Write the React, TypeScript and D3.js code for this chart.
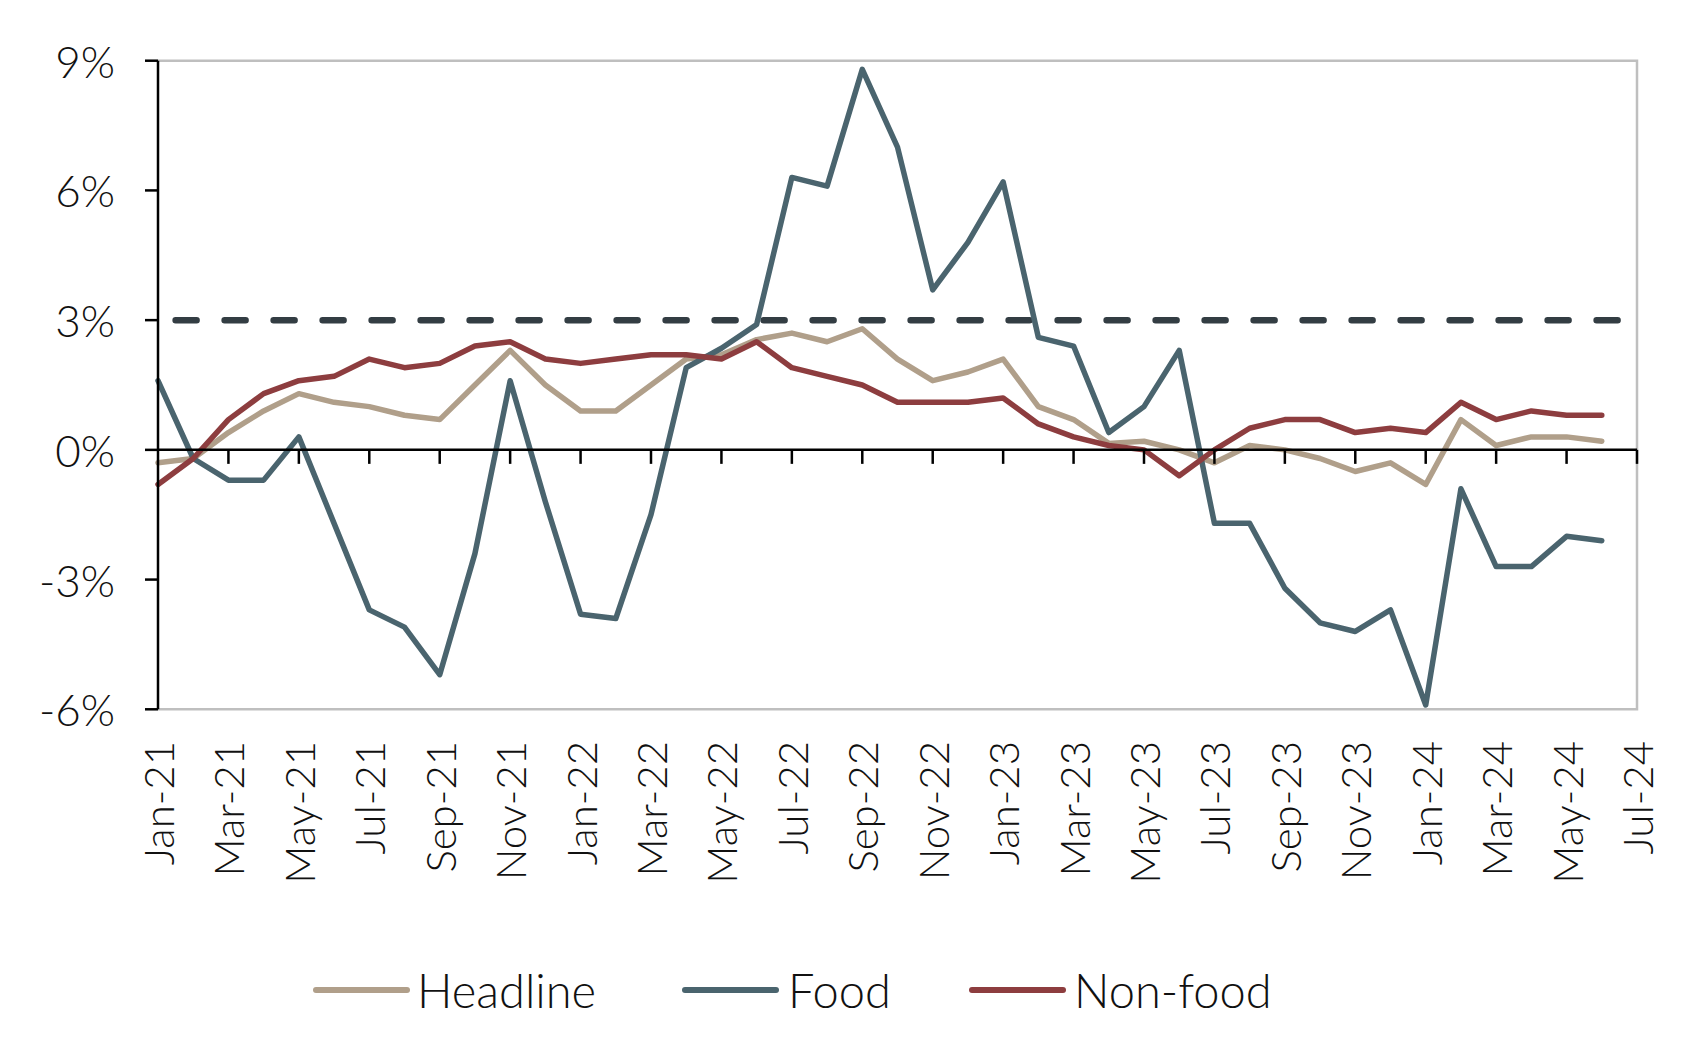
import * as d3 from "d3";
import React from "react";

// month index 0 = Jan-21 ... 41 = Jun-24
const headline = [
  -0.3, -0.2, 0.4, 0.9, 1.3, 1.1, 1.0, 0.8, 0.7, 1.5, 2.3, 1.5,
  0.9, 0.9, 1.5, 2.1, 2.2, 2.55, 2.7, 2.5, 2.8, 2.1, 1.6, 1.8,
  2.1, 1.0, 0.7, 0.15, 0.2, 0.0, -0.3, 0.1, 0.0, -0.2, -0.5, -0.3,
  -0.8, 0.7, 0.1, 0.3, 0.3, 0.2,
];
const food = [
  1.6, -0.2, -0.7, -0.7, 0.3, -1.7, -3.7, -4.1, -5.2, -2.4, 1.6, -1.2,
  -3.8, -3.9, -1.5, 1.9, 2.35, 2.9, 6.3, 6.1, 8.8, 7.0, 3.7, 4.8,
  6.2, 2.6, 2.4, 0.4, 1.0, 2.3, -1.7, -1.7, -3.2, -4.0, -4.2, -3.7,
  -5.9, -0.9, -2.7, -2.7, -2.0, -2.1,
];
const nonFood = [
  -0.8, -0.2, 0.7, 1.3, 1.6, 1.7, 2.1, 1.9, 2.0, 2.4, 2.5, 2.1,
  2.0, 2.1, 2.2, 2.2, 2.1, 2.5, 1.9, 1.7, 1.5, 1.1, 1.1, 1.1,
  1.2, 0.6, 0.3, 0.1, 0.0, -0.6, 0.0, 0.5, 0.7, 0.7, 0.4, 0.5,
  0.4, 1.1, 0.7, 0.9, 0.8, 0.8,
];
const tickLabels = [
  "Jan-21", "Mar-21", "May-21", "Jul-21", "Sep-21", "Nov-21",
  "Jan-22", "Mar-22", "May-22", "Jul-22", "Sep-22", "Nov-22",
  "Jan-23", "Mar-23", "May-23", "Jul-23", "Sep-23", "Nov-23",
  "Jan-24", "Mar-24", "May-24", "Jul-24",
];
const yTicks = [-6, -3, 0, 3, 6, 9];
const target = 3;

const series = [
  { name: "Headline", values: headline, color: "#b09f8a" },
  { name: "Food", values: food, color: "#4a646e" },
  { name: "Non-food", values: nonFood, color: "#8d3d3f" },
];

const W = 1689;
const H = 1039;
const left = 158;
const right = 1637;
const top = 60.7;
const bottom = 709.3;
const font = "Lato, 'Fira Sans', 'Noto Sans', sans-serif";

export default function App() {
  const x = d3.scaleLinear().domain([0, 42]).range([left, right]);
  const y = d3.scaleLinear().domain([-6, 9]).range([bottom, top]);
  const line = d3
    .line<number>()
    .x((_, i) => x(i))
    .y((d) => y(d));

  const y0 = y(0);

  return (
    <svg
      width={W}
      height={H}
      style={{ position: "absolute", left: 0, top: 0, display: "block", background: "#fff" }}
      fontFamily={font}
    >
      {/* plot border */}
      <path
        d={`M${left},${top}H${right}V${bottom}H${left}`}
        fill="none"
        stroke="#bfbfbf"
        strokeWidth={2.5}
      />

      {/* target line */}
      <line
        x1={x(0.5)}
        x2={x(41.5)}
        y1={y(target)}
        y2={y(target)}
        stroke="#333d43"
        strokeWidth={6.5}
        strokeDasharray="21 28"
        strokeLinecap="round"
      />

      {/* series */}
      {series.map((s) => (
        <path
          key={s.name}
          d={line(s.values) || ""}
          fill="none"
          stroke={s.color}
          strokeWidth={5.5}
          strokeLinejoin="round"
          strokeLinecap="round"
        />
      ))}

      {/* y axis */}
      <line x1={left} x2={left} y1={top} y2={bottom} stroke="#000" strokeWidth={2.5} />
      {yTicks.map((t) => (
        <g key={t}>
          <line x1={left - 13} x2={left} y1={y(t)} y2={y(t)} stroke="#000" strokeWidth={2.5} />
          <text
            x={115}
            y={y(t)}
            textAnchor="end"
            dominantBaseline="central"
            fontSize={44}
            fontWeight={300}
            fill="#111"
          >
            {t}%
          </text>
        </g>
      ))}

      {/* zero line and x ticks */}
      <line x1={left} x2={right} y1={y0} y2={y0} stroke="#000" strokeWidth={2.5} />
      {tickLabels.map((lab, k) => {
        const xi = x(k * 2);
        return (
          <g key={lab}>
            {k > 0 && (
              <line x1={xi} x2={xi} y1={y0} y2={y0 + 14} stroke="#000" strokeWidth={2.5} />
            )}
            <text
              transform={`translate(${xi},741) rotate(-90)`}
              textAnchor="end"
              dominantBaseline="central"
              fontSize={42}
              fontWeight={300}
              fill="#111"
            >
              {lab}
            </text>
          </g>
        );
      })}

      {/* legend */}
      {[
        { s: series[0], x1: 316, tx: 417 },
        { s: series[1], x1: 685, tx: 788 },
        { s: series[2], x1: 972, tx: 1074 },
      ].map(({ s, x1, tx }) => (
        <g key={s.name}>
          <line
            x1={x1}
            x2={x1 + 91}
            y1={990}
            y2={990}
            stroke={s.color}
            strokeWidth={6}
            strokeLinecap="round"
          />
          <text
            x={tx}
            y={990}
            dominantBaseline="central"
            fontSize={47}
            fontWeight={300}
            fill="#111"
          >
            {s.name}
          </text>
        </g>
      ))}
    </svg>
  );
}
